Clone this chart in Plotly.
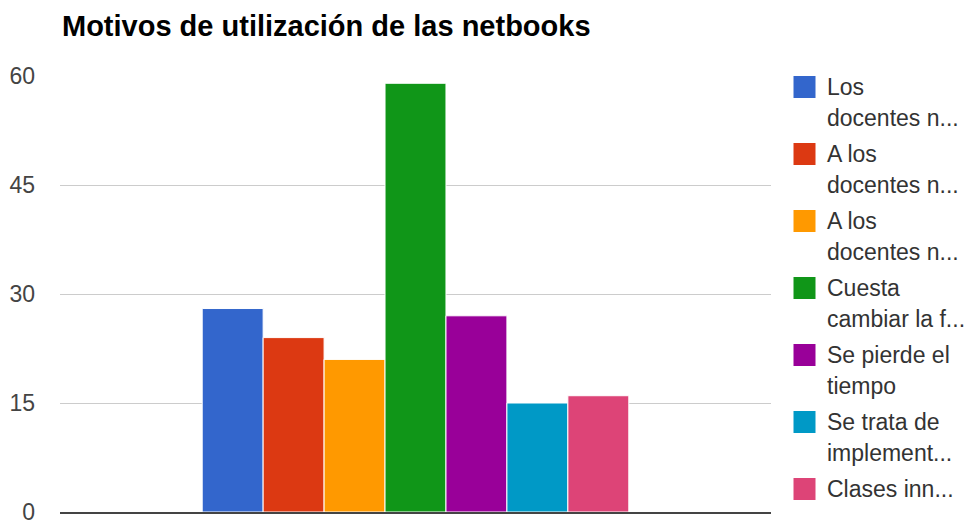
import plotly.graph_objects as go

# Survey answers: reasons given about the use of netbooks
series_names = [
    "Los docentes no ...",
    "A los docentes no ...",
    "A los docentes no ...",
    "Cuesta cambiar la forma ...",
    "Se pierde el tiempo",
    "Se trata de implementar ...",
    "Clases innovadoras ...",
]
legend_lines = [
    ["Los", "docentes n..."],
    ["A los", "docentes n..."],
    ["A los", "docentes n..."],
    ["Cuesta", "cambiar la f..."],
    ["Se pierde el", "tiempo"],
    ["Se trata de", "implement..."],
    ["Clases inn..."],
]
values = [28, 24, 21, 59, 27, 15, 16]
colors = ["#3366cc", "#dc3912", "#ff9900", "#109618", "#990099", "#0099c6", "#dd4477"]
y_ticks = [0, 15, 30, 45, 60]

W, H = 967, 525
ML, MR, MT, MB = 60, 196, 76, 13
plot_w = W - ML - MR
plot_h = H - MT - MB

fig = go.Figure()
for name, v, c in zip(series_names, values, colors):
    fig.add_trace(go.Bar(
        x=[0], y=[v], name=name,
        marker=dict(color=c, line=dict(color="white", width=1)),
        showlegend=False,
    ))

# Legend on the right: coloured squares with wrapped, truncated labels
font_family = "Liberation Sans, Arial, sans-serif"
item_top = 87      # pixel centre of first legend line
item_pitch = 67    # pixel distance between legend entries
line_pitch = 31    # pixel distance between lines inside an entry


def px_to_paper_x(px):
    return (px - ML) / plot_w


def px_to_paper_y(py):
    return (H - MB - py) / plot_h


for i, (lines, c) in enumerate(zip(legend_lines, colors)):
    cy = item_top + i * item_pitch
    fig.add_shape(
        type="rect", xref="paper", yref="paper",
        xsizemode="pixel", ysizemode="pixel",
        xanchor=px_to_paper_x(793), yanchor=px_to_paper_y(cy),
        x0=0, x1=23, y0=-11.5, y1=11.5,
        fillcolor=c, line=dict(color="white", width=1),
    )
    for j, txt in enumerate(lines):
        fig.add_annotation(
            xref="paper", yref="paper",
            x=px_to_paper_x(825), y=px_to_paper_y(cy + j * line_pitch),
            xanchor="left", yanchor="middle",
            text=txt, showarrow=False,
            font=dict(family=font_family, size=23, color="#333333"),
        )

fig.update_layout(
    width=W, height=H,
    margin=dict(l=ML, r=MR, t=MT, b=MB, autoexpand=False),
    paper_bgcolor="white", plot_bgcolor="white",
    barmode="group", bargap=0.4, bargroupgap=0,
    title=dict(
        text="<b>Motivos de utilización de las netbooks</b>",
        x=0, xref="paper", xanchor="left",
        y=1 - 26 / H, yref="container", yanchor="middle",
        pad=dict(l=2, t=0, b=0, r=0),
        font=dict(family=font_family, size=29, color="#000000"),
    ),
    xaxis=dict(
        range=[-0.5, 0.5], showticklabels=False, showgrid=False,
        zeroline=False, showline=True, linecolor="#444444", linewidth=2,
        fixedrange=True, automargin=False,
    ),
    yaxis=dict(
        range=[0, 60], tickvals=y_ticks, ticktext=[str(t) for t in y_ticks],
        showgrid=True, gridcolor="#cccccc", gridwidth=1,
        zeroline=False, showline=False, ticks="",
        ticklabelstandoff=24, ticklabeloverflow="allow",
        tickfont=dict(family=font_family, size=23, color="#444444"),
        fixedrange=True, automargin=False,
    ),
    font=dict(family=font_family),
)

fig.write_html("out.html")
